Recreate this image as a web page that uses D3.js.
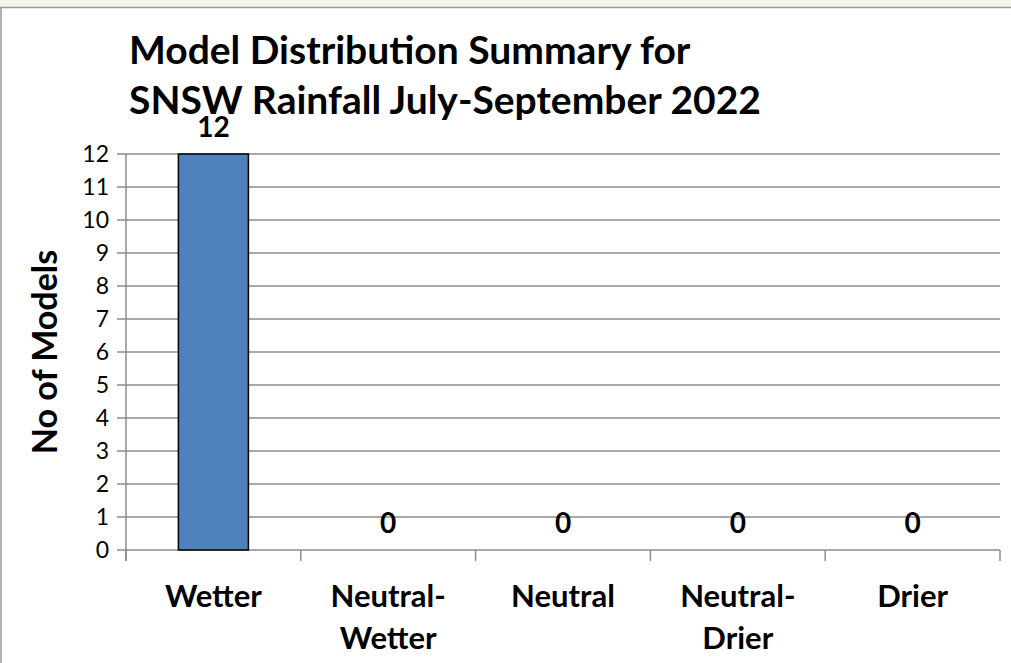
<!DOCTYPE html>
<html>
<head>
<meta charset="utf-8">
<script src="https://cdn.jsdelivr.net/npm/d3@7"></script>
<style>
  html, body { margin: 0; padding: 0; background: #fff; }
  svg { display: block; font-family: Lato, "Open Sans", sans-serif; }
</style>
</head>
<body>
<svg id="chart" width="1011" height="663"></svg>
<script>
// Model counts per rainfall outlook category
const categories = ["Wetter", "Neutral-Wetter", "Neutral", "Neutral-Drier", "Drier"];
const categoryLines = [["Wetter"], ["Neutral-", "Wetter"], ["Neutral"], ["Neutral-", "Drier"], ["Drier"]];
const modelCounts = [12, 0, 0, 0, 0];
const yTicks = [0, 1, 2, 3, 4, 5, 6, 7, 8, 9, 10, 11, 12];
const titleLines = ["Model Distribution Summary for", "SNSW Rainfall July-September 2022"];
const yLabel = "No of Models";

const svg = d3.select("#chart");
const W = 1011, H = 663;

// page frame: pale strip on top, grey borders
svg.append("rect").attr("x", 0).attr("y", 0).attr("width", W).attr("height", 7).attr("fill", "#f2f7ee");
svg.append("line").attr("x1", 0).attr("x2", W).attr("y1", 7.5).attr("y2", 7.5)
  .attr("stroke", "#999").attr("stroke-width", 1.5);
svg.append("line").attr("x1", 1).attr("x2", 1).attr("y1", 7).attr("y2", H)
  .attr("stroke", "#999").attr("stroke-width", 1.5);

const plot = { left: 126, right: 1000, top: 154, bottom: 550 };

const x = d3.scaleBand().domain(categories).range([plot.left, plot.right]).paddingInner(0).paddingOuter(0);
const y = d3.scaleLinear().domain([0, 12]).range([plot.bottom, plot.top]);

// horizontal gridlines (extend left as tick marks)
svg.append("g").selectAll("line").data(yTicks).join("line")
  .attr("x1", plot.left - 9).attr("x2", plot.right)
  .attr("y1", d => y(d)).attr("y2", d => y(d))
  .attr("stroke", "#8c8c8c").attr("stroke-width", 1.5);

// y axis line
svg.append("line").attr("x1", plot.left).attr("x2", plot.left)
  .attr("y1", plot.top).attr("y2", plot.bottom + 11)
  .attr("stroke", "#8c8c8c").attr("stroke-width", 1.5);

// category separators below the baseline
const sepXs = categories.map(c => x(c)).concat([plot.right]);
svg.append("g").selectAll("line").data(sepXs).join("line")
  .attr("x1", d => d).attr("x2", d => d)
  .attr("y1", plot.bottom).attr("y2", plot.bottom + 11)
  .attr("stroke", "#8c8c8c").attr("stroke-width", 1.5);

// y tick labels
svg.append("g").selectAll("text").data(yTicks).join("text")
  .attr("x", 109).attr("y", d => y(d)).attr("dy", "0.36em")
  .attr("text-anchor", "end").attr("font-size", 23).attr("fill", "#000")
  .text(d => d);

// bars
const barW = 70;
svg.append("g").selectAll("rect").data(modelCounts.map((v, i) => ({ c: categories[i], v })).filter(d => d.v > 0))
  .join("rect")
  .attr("x", d => x(d.c) + x.bandwidth() / 2 - barW / 2)
  .attr("width", barW)
  .attr("y", d => y(d.v))
  .attr("height", d => y(0) - y(d.v))
  .attr("fill", "#4f81bd").attr("stroke", "#000").attr("stroke-width", 1.5);

// value labels
svg.append("g").selectAll("text").data(modelCounts).join("text")
  .attr("x", (d, i) => x(categories[i]) + x.bandwidth() / 2)
  .attr("y", d => y(d) - 17)
  .attr("text-anchor", "middle").attr("font-size", 28).attr("font-weight", "bold")
  .text(d => d);

// category labels
const catG = svg.append("g");
categoryLines.forEach((lines, i) => {
  const cx = x(categories[i]) + x.bandwidth() / 2;
  const t = catG.append("text")
    .attr("x", cx).attr("y", 607)
    .attr("text-anchor", "middle").attr("font-size", 31).attr("font-weight", "bold");
  lines.forEach((ln, j) => {
    t.append("tspan").attr("x", cx).attr("dy", j === 0 ? 0 : 42).text(ln);
  });
});

// y axis title
svg.append("text")
  .attr("transform", `translate(57, ${(plot.top + plot.bottom) / 2}) rotate(-90)`)
  .attr("text-anchor", "middle").attr("font-size", 34).attr("font-weight", "bold")
  .text(yLabel);

// chart title, two lines
const titleBaselines = [64, 114];
titleLines.forEach((ln, i) => {
  svg.append("text").attr("x", 129).attr("y", titleBaselines[i])
    .attr("font-size", 39).attr("font-weight", "bold").text(ln);
});
</script>
</body>
</html>
